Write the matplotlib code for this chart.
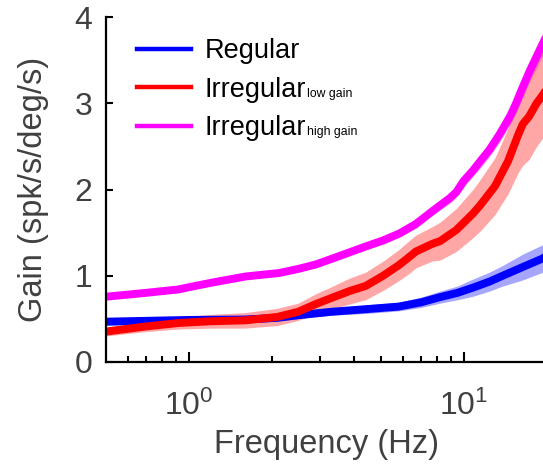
import numpy as np
import matplotlib
matplotlib.use("Agg")
import matplotlib.pyplot as plt
from matplotlib.ticker import FixedLocator, NullFormatter

plt.rcParams['font.family'] = ['Liberation Sans', 'DejaVu Sans']
plt.rcParams['mathtext.fontset'] = 'custom'
plt.rcParams['mathtext.rm'] = 'Liberation Sans'

# Regular units
blue_f = [0.5, 1.0, 1.6, 2.1, 2.5, 3.3, 4.4, 5.8, 7.0, 8.2, 9.5, 10.8, 12.4, 13.9, 16.4, 19.4, 20]
blue_g = [0.465, 0.485, 0.49, 0.51, 0.54, 0.58, 0.61, 0.64, 0.69, 0.75, 0.80, 0.86, 0.93, 1.0, 1.10, 1.20, 1.23]
blue_e = [0.04, 0.04, 0.04, 0.04, 0.04, 0.04, 0.05, 0.05, 0.06, 0.07, 0.08, 0.10, 0.11, 0.12, 0.15, 0.16, 0.16]

# Irregular, low gain
red_f = [0.5, 0.7, 0.92, 1.2, 1.6, 2.1, 2.5, 2.9, 3.3, 3.84, 4.4, 5.1, 5.8, 6.3, 6.7, 7.7, 8.2, 9.4,
         10.8, 11.5, 13.0, 14.5, 15.8, 16.4, 17.3, 18.4, 19.4, 20]
red_g = [0.35, 0.41, 0.45, 0.47, 0.48, 0.52, 0.58, 0.67, 0.74, 0.82, 0.88, 1.0, 1.12, 1.21, 1.28, 1.37,
         1.40, 1.53, 1.72, 1.82, 2.04, 2.33, 2.64, 2.76, 2.85, 3.0, 3.10, 3.16]
red_e = [0.05, 0.06, 0.07, 0.08, 0.09, 0.10, 0.10, 0.12, 0.13, 0.15, 0.16, 0.17, 0.18, 0.19, 0.19,
         0.20, 0.22, 0.25, 0.28, 0.30, 0.33, 0.38, 0.44, 0.48, 0.5, 0.5, 0.5, 0.5]

# Irregular, high gain
mag_f = [0.5, 0.7, 0.92, 1.0, 1.22, 1.61, 2.13, 2.52, 2.9, 3.34, 3.84, 4.41, 5.1, 5.84, 6.7, 7.7,
         8.9, 9.4, 10.0, 10.8, 11.5, 12.4, 13.5, 14.8, 15.5, 16.2, 17.4, 18.9, 20]
mag_g = [0.755, 0.80, 0.84, 0.865, 0.92, 0.99, 1.03, 1.08, 1.13, 1.20, 1.27, 1.34, 1.41, 1.49, 1.60,
         1.75, 1.90, 1.97, 2.10, 2.22, 2.33, 2.46, 2.64, 2.86, 3.0, 3.15, 3.38, 3.62, 3.78]
mag_e = [0.03, 0.03, 0.03, 0.03, 0.03, 0.03, 0.03, 0.035, 0.035, 0.04, 0.04, 0.04, 0.045, 0.045,
         0.05, 0.05, 0.06, 0.06, 0.07, 0.07, 0.08, 0.08, 0.09, 0.10, 0.11, 0.12, 0.12, 0.13, 0.14]

series = [
    ("Regular", blue_f, blue_g, blue_e, "#0000ff"),
    ("Irregular high gain", mag_f, mag_g, mag_e, "#ff00ff"),
    ("Irregular low gain", red_f, red_g, red_e, "#ff0000"),
]

gray = "#404040"
fig = plt.figure(figsize=(5.43, 4.66), dpi=100)
ax = fig.add_axes([0.1952, 0.2238, 0.8112, 0.739])

handles = {}
for name, f, g, e, col in series:
    f = np.array(f)
    g = np.array(g)
    e = np.array(e)
    ax.fill_between(f, g - e, g + e, color=col, alpha=0.35, lw=0)
    line, = ax.plot(f, g, color=col, lw=5.7, solid_joinstyle='round')
    handles[col] = line

ax.set_xscale('log')
ax.set_xlim(0.5, 20)
ax.set_ylim(0, 4)
ax.set_yticks([0, 1, 2, 3, 4])
ax.set_xticks([1, 10])
ax.set_xticklabels([r'$\mathregular{10^{0}}$', r'$\mathregular{10^{1}}$'])
ax.xaxis.set_minor_locator(FixedLocator([0.6, 0.7, 0.8, 0.9, 2, 3, 4, 5, 6, 7, 8, 9, 20]))
ax.xaxis.set_minor_formatter(NullFormatter())

for s in ['top', 'right']:
    ax.spines[s].set_visible(False)
for s in ['left', 'bottom']:
    ax.spines[s].set_linewidth(1.6)
    ax.spines[s].set_color('black')

ax.tick_params(axis='both', which='major', direction='in', length=7, width=1.5,
               labelsize=23, labelcolor=gray, pad=10)
ax.tick_params(axis='x', which='major', pad=21)
ax.tick_params(axis='x', which='minor', direction='in', length=4.5, width=1.5)
ax.tick_params(axis='y', which='major', length=5)

ax.set_xlabel("Frequency (Hz)", fontsize=23.5, color=gray, labelpad=5)
ax.set_ylabel("Gain (spk/s/deg/s)", fontsize=23.5, color=gray, labelpad=18)

leg = ax.legend([handles["#0000ff"], handles["#ff0000"], handles["#ff00ff"]],
                ["Regular", "Irregular", "Irregular"],
                loc='upper left', bbox_to_anchor=(0.07, 0.94), frameon=False,
                fontsize=19.5, handlelength=2.0, handletextpad=0.5, labelspacing=0.47,
                borderpad=0, borderaxespad=0)
for lh in leg.get_lines():
    lh.set_linewidth(3.2)

# subscripts after legend labels
fig.canvas.draw()
renderer = fig.canvas.get_renderer()
subs = [None, "low gain", "high gain"]
for txt, sub in zip(leg.get_texts(), subs):
    if sub is None:
        continue
    bb = txt.get_window_extent(renderer)
    x0, y0 = fig.transFigure.inverted().transform((bb.x1 + 1, bb.y0 + 3))
    fig.text(x0, y0, sub, fontsize=8.8, color='black', ha='left', va='bottom')

fig.savefig("out.png", dpi=100)
